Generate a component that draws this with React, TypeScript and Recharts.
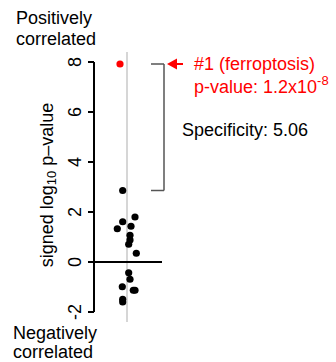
import React from 'react';
import { ReferenceDot, ReferenceLine, Scatter, ScatterChart, XAxis, YAxis } from 'recharts';

// signed log10 p-values of the other gene sets, with their horizontal jitter
const otherValues = [2.86, 1.61, 1.33, 1.8, 1.43, 1.07, 0.88, 0.71, 0.35, -0.43, -0.69, -0.99, -1.13, -1.13, -1.49, -1.6];
const otherJitter = [-0.43, -0.43, -0.97, 0.8, 0.4, 0.3, 0.3, 0.17, 0.93, 0.17, 0.3, -0.47, 0.63, 0.8, -0.43, -0.43];

// top hit (ferroptosis)
const topValue = [7.92];
const topJitter = [-0.7];

const yTicks = [-2, 0, 2, 4, 6, 8];
const yDomain = [-2.4, 8.4];
const xDomain = [-3.3, 20.7];

const secondValue = otherValues[0];

const FONT = '"Liberation Sans", Arial, Helvetica, sans-serif';

const others = otherValues.map((v, i) => ({ x: otherJitter[i], y: v }));
const top = topValue.map((v, i) => ({ x: topJitter[i], y: v }));

const Dot = (color: string) => (p: any) => <circle cx={p.cx} cy={p.cy} r={3.6} fill={color} />;

const Tick = (p: any) => (
  <text
    transform={`translate(${p.x},${p.y}) rotate(-90)`}
    textAnchor="middle"
    dominantBaseline="central"
    fontSize={18}
    fontFamily={FONT}
    fill="#000"
  >
    {p.payload.value}
  </text>
);

const YLabel = () => (
  <text
    transform="translate(47,185) rotate(-90)"
    textAnchor="middle"
    dominantBaseline="central"
    fontSize={18}
    fontFamily={FONT}
    fill="#000"
  >
    signed log
    <tspan fontSize={13} dy={4}>10</tspan>
    <tspan dy={-4}> p–value</tspan>
  </text>
);

const ArrowHead = (p: any) => (
  <polygon points={`${p.cx},${p.cy} ${p.cx + 10},${p.cy - 5.5} ${p.cx + 10},${p.cy + 5.5}`} fill="#ff0000" />
);

export default function App() {
  const txt = { fontFamily: FONT, fontSize: 18 };
  return (
    <div style={{ position: 'absolute', left: 0, top: 0, width: 336, height: 362, background: '#fff' }}>
      <ScatterChart width={336} height={362} margin={{ top: 52, right: 2, bottom: 40, left: 0 }}>
        <XAxis type="number" dataKey="x" domain={xDomain} hide />
        <YAxis
          type="number"
          dataKey="y"
          domain={yDomain}
          ticks={yTicks}
          width={94}
          axisLine={false}
          tickLine={{ stroke: '#000', strokeWidth: 2 }}
          tickSize={6}
          tickMargin={13}
          tick={<Tick />}
          label={<YLabel />}
        />
        <ReferenceLine x={0} stroke="#d6d6d6" strokeWidth={2} />
        <ReferenceLine
          segment={[{ x: xDomain[0], y: 0 }, { x: 3.5, y: 0 }]}
          stroke="#000"
          strokeWidth={2}
          ifOverflow="visible"
        />
        <ReferenceLine
          segment={[{ x: xDomain[0], y: -2 }, { x: xDomain[0], y: 8 }]}
          stroke="#000"
          strokeWidth={2}
          ifOverflow="visible"
        />
        {/* bracket from top hit to second hit */}
        <ReferenceLine segment={[{ x: 2.4, y: topValue[0] }, { x: 3.7, y: topValue[0] }]} stroke="#555" strokeWidth={1.5} />
        <ReferenceLine segment={[{ x: 3.7, y: topValue[0] }, { x: 3.7, y: secondValue }]} stroke="#555" strokeWidth={1.5} />
        <ReferenceLine segment={[{ x: 2.4, y: secondValue }, { x: 3.7, y: secondValue }]} stroke="#555" strokeWidth={1.5} />
        {/* red arrow */}
        <ReferenceLine segment={[{ x: 4.8, y: topValue[0] }, { x: 5.6, y: topValue[0] }]} stroke="#ff0000" strokeWidth={2} />
        <ReferenceDot x={4.0} y={topValue[0]} shape={<ArrowHead />} />
        <Scatter data={others} shape={Dot('#000')} isAnimationActive={false} />
        <Scatter data={top} shape={Dot('#ff0000')} isAnimationActive={false} />
      </ScatterChart>
      <svg width={336} height={362} style={{ position: 'absolute', left: 0, top: 0, pointerEvents: 'none' }}>
        <text x={16} y={24} {...txt} fill="#000">Positively</text>
        <text x={16} y={45} {...txt} fill="#000">correlated</text>
        <text x={13} y={339} {...txt} fill="#000">Negatively</text>
        <text x={13} y={358} {...txt} fill="#000">correlated</text>
        <text x={194} y={70} {...txt} fill="#ff0000">#1 (ferroptosis)</text>
        <text x={194} y={93} {...txt} fill="#ff0000">
          p-value: 1.2x10
          <tspan fontSize={13} dy={-8}>-8</tspan>
        </text>
        <text x={182} y={136} {...txt} fill="#000">Specificity: 5.06</text>
      </svg>
    </div>
  );
}
